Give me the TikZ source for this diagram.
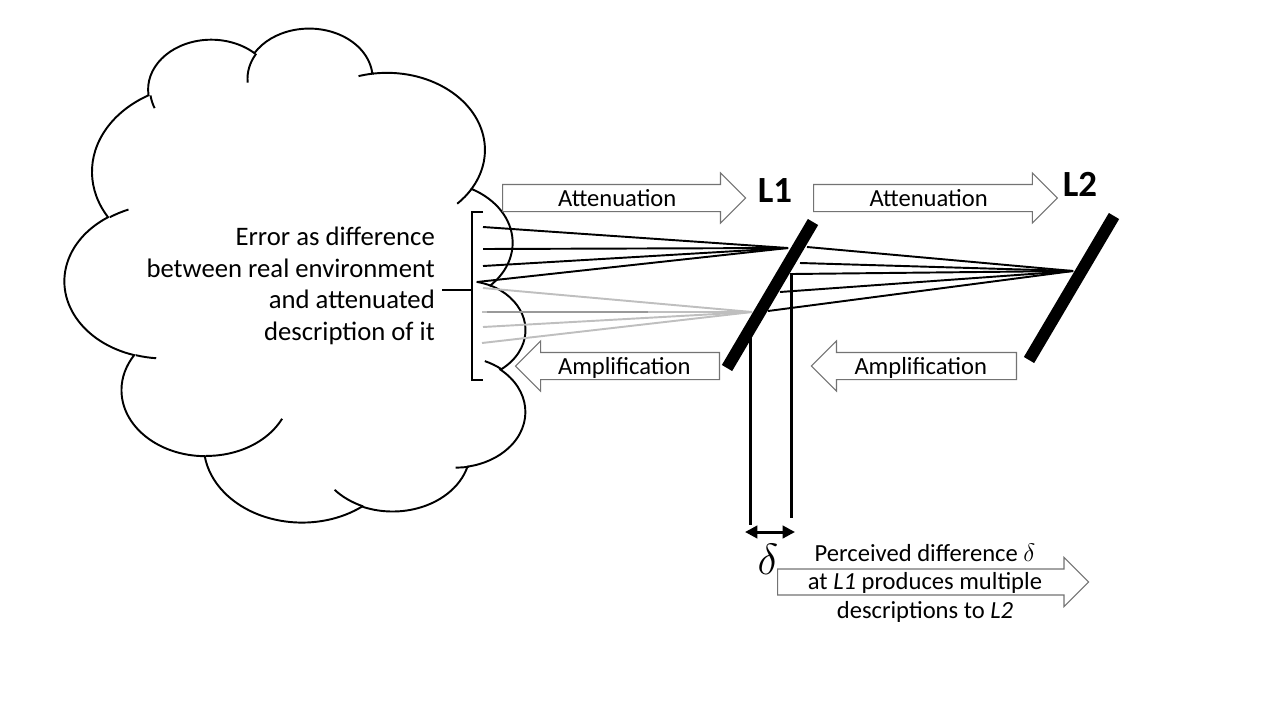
\documentclass[tikz,border=0pt]{standalone}
\usepackage{fontspec}
\setmainfont{Carlito}
\usetikzlibrary{shapes.arrows, arrows.meta, positioning}

% one puff of the cloud: radii, start and sweep angle seen from the centre
\newcommand\puff[4]{arc[x radius=#1, y radius=#2,
  start angle={atan2(#1*sin(#3),#2*cos(#3))},
  delta angle={mod(atan2(#1*sin(#3+#4),#2*cos(#3+#4))-atan2(#1*sin(#3),#2*cos(#3))+720,360)}]}

\tikzset{
  blockarrow/.style={single arrow, draw=black!55, line width=0.6pt, fill=white,
    inner xsep=2pt, inner ysep=0pt, text height=12pt, text depth=2.8pt,
    single arrow head extend=6.55pt, anchor=tail,
    font=\fontsize{14}{17}\selectfont},
  ray/.style={line width=1.1pt},
  greyray/.style={line width=1.1pt, gray!50},
  vline/.style={line width=1.7pt},
  bar/.style={line width=6.8pt},
  level/.style={font=\bfseries\fontsize{21}{25}\selectfont},
}

\begin{document}
\begin{tikzpicture}[x=0.02cm, y=-0.02cm]
  \useasboundingbox (0,0) rectangle (1280,720);

  % cloud
  \begin{scope}[shift={(527,29)}, x={(0cm,-0.000225463cm)}, y={(-0.000206481cm,0cm)}, line width=1.1pt]
    \draw[fill=white] (3900,14370) \puff{6753}{9190}{-190.4875}{123.7805}
      \puff{5333}{7267}{-144.1024}{89.9452} \puff{4365}{5945}{-145.8079}{99.7230}
      \puff{4857}{6595}{-130.9861}{117.2417} \puff{5333}{7273}{-78.7089}{109.0269}
      \puff{6775}{9220}{-46.2673}{130.2690} \puff{5785}{7867}{0.6250}{114.0333}
      \puff{6752}{9215}{22.4516}{115.1726} \puff{7720}{10543}{66.2426}{75.7110}
      \puff{4360}{5918}{-274.9421}{146.7356} \puff{4345}{5945}{-246.8285}{152.5189} -- cycle;
    \foreach \u/\v/\rx/\ry/\st/\sw in {4693/26177/4345/5945/86.7420/26.4295,
        6928/34899/4360/5918/73.6105/11.4475, 16478/39090/6752/9215/137.6242/14.0811,
        28827/34751/6752/9215/6.4533/15.9984, 34129/22954/5785/7867/-70.2924/70.9174,
        41798/15354/5333/7273/30.3180/27.7515, 38324/5426/4857/6595/-13.7443/14.8502,
        29078/3952/4857/6595/-149.1815/18.1943, 22141/4720/4365/5945/-163.4943/17.6867,
        14000/5192/6753/9190/-66.7070/12.3194, 4127/15789/6753/9190/157.6544/11.8582}
      \draw (\u,\v) \puff{\rx}{\ry}{\st}{\sw};
  \end{scope}

  \node[align=right, anchor=east, font=\fontsize{15.2}{18}\selectfont] (err) at (441,286)
    {Error as difference\\between real environment\\and attenuated\\description of it};

  % bracket
  \coordinate (brt) at (483,212);
  \coordinate (brb) at (483,380);
  \coordinate (brm) at (472,290);
  \coordinate (brl) at (442,290);
  \draw[line width=1.5pt] (brt) -| (brm) |- (brb);
  \draw[line width=1.5pt] (brm) -- (brl);

  % focal points
  \coordinate (f1) at (788,248);
  \coordinate (f1g) at (752,312);
  \coordinate (f2) at (1073,271);

  \foreach \p [count=\i] in {{483,227},{483,249},{483,266},{477,282}} {
    \coordinate (a\i) at (\p);
    \draw[ray] (a\i) -- (f1);
  }
  \foreach \p [count=\i] in {{483,288},{482,312},{483,327},{482,343}} {
    \coordinate (g\i) at (\p);
    \draw[greyray] (g\i) -- (f1g);
  }
  \coordinate (g2s) at (487,312);
  \coordinate (g2e) at (648,312);
  \draw[line width=1.1pt, gray!80] (g2s) -- (g2e);
  \foreach \p [count=\i] in {{807,247},{800,263},{792,274},{780,292},{768,311}} {
    \coordinate (b\i) at (\p);
    \draw[ray] (b\i) -- (f2);
  }

  % perceived difference
  \coordinate (v1t) at (750,338);
  \coordinate (v1b) at (750,525);
  \coordinate (v2t) at (791,273);
  \coordinate (v2b) at (791,518);
  \draw[vline] (v1t) -- (v1b);
  \draw[vline] (v2t) -- (v2b);
  \coordinate (dl) at (745,532);
  \coordinate (dr) at (795,532);
  \draw[line width=1.7pt, {Triangle[length=7pt,width=7pt]}-{Triangle[length=7pt,width=7pt]}] (dl) -- (dr);
  \node[font=\fontsize{24}{28}\selectfont] (dlt) at (768,559) {$\delta$};

  % levels
  \coordinate (l1t) at (813,222);
  \coordinate (l1b) at (727,368);
  \coordinate (l2t) at (1114,216);
  \coordinate (l2b) at (1029,360);
  \draw[bar] (l1t) -- (l1b);
  \draw[bar] (l2t) -- (l2b);
  \node[level] (L1) at (775,191) {L1};
  \node[level] (L2) at (1080,184) {L2};

  \node[blockarrow, minimum height=138.3pt] (att1) at (502,198) {Attenuation};
  \node[blockarrow, minimum height=138.8pt] (att2) at (813,198) {Attenuation};
  \node[blockarrow, shape border rotate=180, minimum height=116.1pt] (amp1) at (720,366) {Amplification};
  \node[blockarrow, shape border rotate=180, minimum height=116.7pt] (amp2) at (1017,366) {Amplification};

  \node[blockarrow, minimum height=177pt, text depth=2.2pt] (percarrow) at (777,582) {};
  \node[align=center, font=\fontsize{14}{16.2}\selectfont] (perc) at (925,583)
    {Perceived difference $\delta$\\at \textit{L1} produces multiple\\descriptions to \textit{L2}};
\end{tikzpicture}
\end{document}
